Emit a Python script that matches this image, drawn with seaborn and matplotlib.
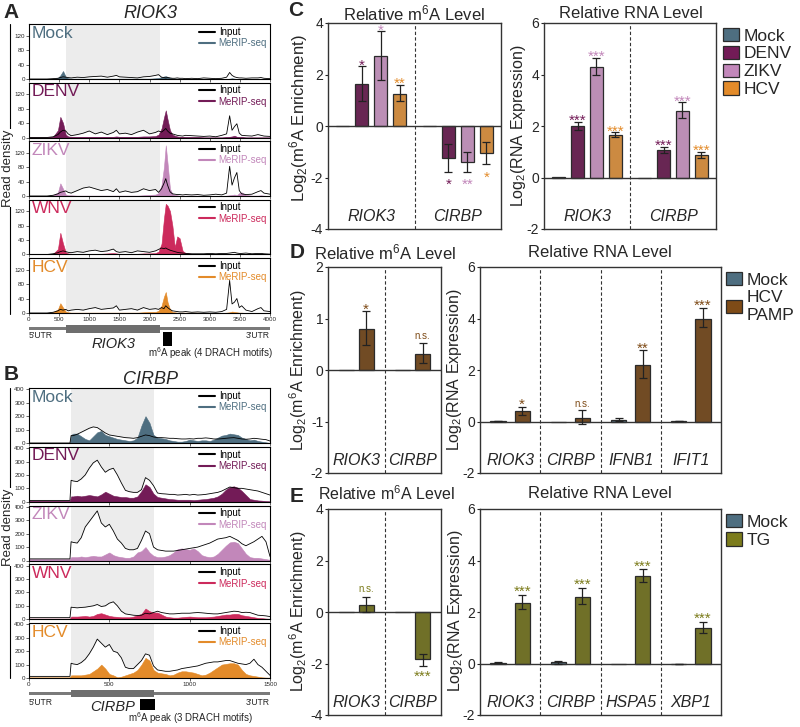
import numpy as np
import pandas as pd
import matplotlib
matplotlib.use('Agg')
import matplotlib.pyplot as plt
import matplotlib.transforms as mtrans
from matplotlib.patches import Patch
from matplotlib.lines import Line2D
import seaborn as sns

# ---------------- data: coverage tracks (read density) ----------------
riok3_len = 4000
riok3_cds = [620, 2180]
riok3_peak = [2224, 2373]
riok3_pos = [0, 100, 200, 300, 400, 480, 520, 565, 610, 650,
             700, 800, 900, 1000, 1100, 1200, 1300, 1400, 1450, 1500,
             1600, 1700, 1800, 1900, 2000, 2100, 2150, 2200, 2240, 2270,
             2300, 2340, 2380, 2420, 2460, 2500, 2550, 2600, 2700, 2800,
             2900, 3000, 3100, 3200, 3280, 3330, 3370, 3410, 3450, 3490,
             3530, 3600, 3700, 3800, 3850, 3900, 4000]

riok3_in_mock = [0, 0, 0, 0, 1, 2, 4, 6, 5, 4,
                 3, 5, 4, 6, 7, 8, 5, 8, 10, 6,
                 5, 4, 3, 6, 7, 10, 12, 5, 4, 3,
                 4, 3, 2, 2, 3, 2, 2, 1, 2, 1,
                 3, 2, 1, 2, 5, 18, 10, 6, 4, 3,
                 3, 2, 3, 3, 4, 2, 1]
riok3_me_mock = [0, 0, 0, 0, 0, 3, 10, 22, 6, 2,
                 1, 1, 1, 1, 1, 1, 1, 1, 1, 1,
                 1, 1, 1, 1, 1, 2, 3, 5, 7, 8,
                 6, 3, 1, 1, 1, 1, 0, 0, 0, 0,
                 0, 0, 0, 0, 0, 1, 2, 1, 0, 0,
                 0, 0, 0, 0, 0, 0, 0]
riok3_in_denv = [0, 0, 0, 0, 2, 8, 15, 20, 18, 10,
                 5, 8, 12, 18, 10, 15, 8, 14, 20, 10,
                 12, 8, 15, 20, 10, 14, 18, 15, 20, 25,
                 18, 12, 10, 8, 6, 5, 4, 6, 5, 4,
                 3, 4, 2, 6, 10, 60, 20, 30, 38, 12,
                 6, 5, 4, 8, 6, 4, 3]
riok3_me_denv = [0, 0, 0, 0, 2, 20, 57, 40, 8, 3,
                 2, 2, 2, 2, 2, 2, 2, 2, 3, 2,
                 2, 2, 2, 3, 3, 4, 8, 25, 55, 75,
                 50, 20, 8, 5, 3, 2, 2, 1, 1, 1,
                 0, 0, 0, 0, 1, 2, 3, 5, 2, 1,
                 1, 0, 0, 0, 0, 0, 0]
riok3_in_zikv = [0, 0, 0, 0, 2, 6, 10, 12, 14, 10,
                 8, 15, 22, 25, 20, 15, 18, 12, 20, 10,
                 14, 10, 12, 20, 15, 18, 10, 20, 35, 48,
                 30, 12, 6, 5, 4, 4, 3, 4, 3, 4,
                 2, 3, 5, 3, 8, 82, 30, 50, 65, 15,
                 6, 4, 5, 12, 15, 8, 5]
riok3_me_zikv = [0, 0, 0, 0, 2, 10, 35, 20, 4, 2,
                 2, 1, 1, 1, 1, 1, 1, 1, 1, 1,
                 1, 1, 1, 2, 3, 4, 8, 30, 80, 140,
                 90, 20, 6, 3, 2, 1, 1, 1, 1, 1,
                 0, 0, 0, 0, 1, 2, 3, 4, 2, 8,
                 10, 3, 1, 1, 2, 1, 0]
riok3_in_wnv = [0, 0, 0, 0, 2, 5, 8, 10, 8, 6,
                5, 8, 6, 10, 12, 8, 10, 15, 8, 6,
                8, 5, 10, 8, 6, 10, 14, 18, 16, 18,
                15, 12, 10, 8, 6, 5, 4, 3, 2, 2,
                2, 3, 2, 3, 3, 4, 5, 6, 4, 3,
                3, 4, 2, 3, 3, 2, 1]
riok3_me_wnv = [0, 0, 0, 0, 2, 15, 60, 30, 6, 3,
                2, 2, 2, 2, 2, 2, 3, 4, 3, 2,
                2, 2, 2, 3, 3, 4, 8, 30, 100, 140,
                135, 120, 80, 20, 50, 45, 10, 4, 2, 1,
                1, 1, 1, 1, 1, 2, 2, 2, 1, 1,
                1, 1, 0, 0, 0, 0, 0]
riok3_in_hcv = [0, 0, 0, 0, 2, 6, 10, 8, 10, 6,
                8, 10, 8, 12, 15, 10, 12, 14, 20, 8,
                10, 12, 8, 15, 10, 12, 10, 15, 12, 20,
                15, 10, 6, 5, 4, 3, 3, 4, 2, 3,
                2, 3, 2, 4, 10, 90, 25, 30, 40, 15,
                20, 8, 4, 12, 15, 6, 4]
riok3_me_hcv = [0, 0, 0, 0, 2, 10, 27, 15, 4, 2,
                1, 1, 1, 1, 1, 1, 1, 1, 1, 1,
                1, 1, 1, 2, 3, 3, 6, 20, 45, 58,
                30, 10, 3, 2, 1, 1, 1, 1, 1, 1,
                0, 0, 0, 0, 1, 2, 4, 3, 2, 1,
                1, 0, 0, 0, 0, 0, 0]

cirbp_len = 1500
cirbp_cds = [262, 778]
cirbp_peak = [690, 785]
cirbp_pos = [0, 255, 262,
             275, 300, 325, 350, 375, 400, 425, 450, 475, 500,
             525, 550, 575, 600, 625, 650, 675, 700, 725, 750,
             775, 800, 825, 850, 875, 900, 925, 950, 975, 1000,
             1025, 1050, 1075, 1100, 1125, 1150, 1175, 1200, 1225, 1250,
             1275, 1300, 1325, 1350, 1375, 1400, 1425, 1450, 1475, 1500]

cirbp_in_mock = [0, 0, 55,
                 55, 65, 80, 95, 110, 120, 115, 95, 75, 60,
                 55, 50, 45, 40, 38, 35, 40, 50, 60, 55,
                 45, 40, 40, 38, 35, 35, 32, 30, 30, 32,
                 30, 35, 35, 38, 35, 30, 30, 32, 35, 38,
                 40, 35, 30, 28, 30, 35, 32, 28, 25, 15]
cirbp_me_mock = [0, 0, 60,
                 70, 70, 50, 30, 20, 50, 80, 90, 60, 50,
                 40, 30, 25, 20, 15, 20, 40, 130, 200, 150,
                 60, 40, 35, 30, 20, 15, 10, 10, 15, 25,
                 20, 15, 20, 20, 15, 25, 40, 55, 60, 70,
                 65, 60, 40, 30, 20, 25, 15, 10, 5, 0]
cirbp_in_denv = [10, 10, 160,
                 155, 150, 170, 200, 250, 290, 310, 260, 220, 240,
                 250, 200, 140, 85, 75, 70, 70, 90, 180, 160,
                 120, 65, 60, 58, 55, 55, 50, 52, 55, 50,
                 55, 50, 52, 55, 60, 65, 70, 80, 95, 110,
                 105, 100, 100, 95, 90, 85, 80, 70, 60, 50]
cirbp_me_denv = [8, 8, 40,
                 40, 45, 40, 45, 50, 45, 40, 55, 75, 60,
                 45, 40, 35, 35, 30, 30, 40, 80, 130, 110,
                 60, 35, 30, 25, 20, 18, 15, 15, 15, 15,
                 12, 15, 18, 20, 25, 30, 40, 60, 90, 110,
                 115, 105, 80, 50, 20, 15, 10, 8, 5, 3]
cirbp_in_zikv = [12, 12, 140,
                 135, 130, 170, 250, 290, 330, 370, 280, 250, 270,
                 220, 160, 130, 90, 80, 80, 90, 150, 220, 200,
                 100, 80, 75, 70, 70, 70, 75, 80, 85, 90,
                 95, 100, 110, 120, 130, 145, 160, 165, 170, 180,
                 165, 150, 125, 110, 125, 140, 160, 180, 140, 30]
cirbp_me_zikv = [10, 10, 25,
                 25, 25, 30, 25, 30, 35, 30, 30, 45, 60,
                 40, 30, 25, 20, 20, 30, 60, 70, 100, 60,
                 35, 25, 25, 30, 40, 60, 85, 90, 85, 80,
                 90, 70, 40, 30, 25, 30, 50, 80, 110, 135,
                 140, 130, 90, 50, 25, 20, 20, 15, 10, 5]
cirbp_in_wnv = [12, 12, 90,
                88, 85, 88, 90, 95, 100, 110, 95, 100, 120,
                130, 100, 60, 40, 35, 30, 28, 30, 45, 40,
                50, 60, 50, 45, 40, 40, 42, 45, 45, 45,
                48, 50, 48, 45, 42, 40, 40, 45, 50, 55,
                60, 58, 50, 52, 50, 40, 30, 28, 25, 20]
cirbp_me_wnv = [5, 5, 20,
                20, 20, 22, 25, 20, 25, 40, 45, 35, 25,
                20, 18, 15, 15, 15, 20, 30, 40, 80, 60,
                50, 50, 35, 20, 15, 12, 12, 15, 18, 20,
                18, 15, 15, 15, 18, 20, 25, 30, 35, 35,
                40, 40, 30, 25, 20, 15, 10, 8, 5, 3]
cirbp_in_hcv = [12, 12, 110,
                105, 100, 115, 140, 180, 230, 290, 260, 230, 250,
                200, 190, 150, 80, 70, 70, 100, 130, 180, 170,
                90, 60, 55, 50, 50, 55, 60, 70, 75, 80,
                85, 90, 100, 110, 115, 120, 120, 125, 130, 130,
                120, 110, 105, 100, 110, 140, 100, 80, 50, 20]
cirbp_me_hcv = [5, 5, 20,
                20, 20, 20, 25, 30, 50, 70, 100, 70, 30,
                20, 5, 10, 20, 30, 40, 60, 100, 150, 130,
                60, 40, 35, 30, 20, 25, 40, 50, 50, 45,
                40, 30, 20, 25, 40, 60, 80, 100, 105, 110,
                110, 100, 60, 30, 20, 15, 10, 5, 3, 2]

track_names = ['Mock', 'DENV', 'ZIKV', 'WNV', 'HCV']

# ---------------- data: bar charts ----------------
c_genes = ['RIOK3', 'CIRBP']
c_conds = ['Mock', 'DENV', 'ZIKV', 'HCV']
c_m6a_mean = {'Mock': [0, 0], 'DENV': [1.62, -1.23], 'ZIKV': [2.70, -1.39], 'HCV': [1.23, -1.04]}
c_m6a_lo = {'DENV': [0.97, -1.79], 'ZIKV': [1.79, -1.79], 'HCV': [0.97, -1.49]}
c_m6a_hi = {'DENV': [2.34, -0.71], 'ZIKV': [3.70, -1.01], 'HCV': [1.60, -0.62]}
c_m6a_sig = {'DENV': ['*', '*'], 'ZIKV': ['*', '**'], 'HCV': ['**', '*']}
c_m6a_sig_y = {'DENV': [2.53, -2.08], 'ZIKV': [3.9, -2.08], 'HCV': [1.82, -1.82]}

c_rna_mean = {'Mock': [0.02, 0.0], 'DENV': [2.00, 1.07], 'ZIKV': [4.30, 2.58], 'HCV': [1.65, 0.86]}
c_rna_lo = {'DENV': [1.85, 0.97], 'ZIKV': [3.97, 2.30], 'HCV': [1.59, 0.75]}
c_rna_hi = {'DENV': [2.17, 1.20], 'ZIKV': [4.66, 2.92], 'HCV': [1.75, 1.00]}
c_rna_sig = {'DENV': ['***', '***'], 'ZIKV': ['***', '***'], 'HCV': ['***', '***']}
c_rna_sig_y = {'DENV': [2.39, 1.42], 'ZIKV': [4.88, 3.14], 'HCV': [1.97, 1.23]}

d_m6a_genes = ['RIOK3', 'CIRBP']
d_conds = ['Mock', 'HCV PAMP']
d_m6a_mean = {'Mock': [0, 0], 'HCV PAMP': [0.79, 0.31]}
d_m6a_lo = {'HCV PAMP': [0.48, 0.13]}
d_m6a_hi = {'HCV PAMP': [1.14, 0.53]}
d_m6a_sig = {'HCV PAMP': ['*', 'n.s.']}
d_m6a_sig_y = {'HCV PAMP': [1.27, 0.65]}

d_rna_genes = ['RIOK3', 'CIRBP', 'IFNB1', 'IFIT1']
d_rna_mean = {'Mock': [0.02, 0.0, 0.07, 0.02], 'HCV PAMP': [0.39, 0.13, 2.20, 3.99]}
d_rna_lo = {'Mock': [0.01, 0.0, 0.02, 0.01], 'HCV PAMP': [0.26, -0.09, 1.70, 3.67]}
d_rna_hi = {'Mock': [0.03, 0.0, 0.14, 0.03], 'HCV PAMP': [0.58, 0.43, 2.76, 4.41]}
d_rna_sig = {'HCV PAMP': ['*', 'n.s.', '**', '***']}
d_rna_sig_y = {'HCV PAMP': [0.85, 0.66, 3.0, 4.7]}

e_m6a_genes = ['RIOK3', 'CIRBP']
e_conds = ['Mock', 'TG']
e_m6a_mean = {'Mock': [0, 0], 'TG': [0.26, -1.82]}
e_m6a_lo = {'TG': [0.0, -2.08]}
e_m6a_hi = {'TG': [0.58, -1.62]}
e_m6a_sig = {'TG': ['n.s.', '***']}
e_m6a_sig_y = {'TG': [0.89, -2.34]}

e_rna_genes = ['RIOK3', 'CIRBP', 'HSPA5', 'XBP1']
e_rna_mean = {'Mock': [0.03, 0.05, 0.0, -0.02], 'TG': [2.34, 2.57, 3.40, 1.36]}
e_rna_lo = {'Mock': [0.01, 0.0, 0.0, -0.03], 'TG': [2.13, 2.30, 3.18, 1.19]}
e_rna_hi = {'Mock': [0.05, 0.10, 0.0, -0.01], 'TG': [2.65, 2.95, 3.68, 1.62]}
e_rna_sig = {'TG': ['***', '***', '***', '***']}
e_rna_sig_y = {'TG': [2.96, 3.25, 3.96, 1.92]}

palette = {'Mock': '#4e6e80', 'DENV': '#731b57', 'ZIKV': '#c287ba', 'WNV': '#cc2a5c',
           'HCV': '#e38b2a', 'HCV PAMP': '#7e4b17', 'TG': '#7c7c1c'}

# ---------------- style ----------------
sns.set_style('ticks')
plt.rcParams['font.family'] = ['Liberation Sans', 'DejaVu Sans']
plt.rcParams['mathtext.fontset'] = 'custom'
plt.rcParams['mathtext.rm'] = 'Liberation Sans'
plt.rcParams['mathtext.it'] = 'Liberation Sans:italic'
plt.rcParams['mathtext.bf'] = 'Liberation Sans:bold'
plt.rcParams['axes.unicode_minus'] = False

W, H = 800, 727
fig = plt.figure(figsize=(8, 7.27), dpi=100)


def px_axes(x0, y0, x1, y1):
    return fig.add_axes([x0 / W, 1 - y1 / H, (x1 - x0) / W, (y1 - y0) / H])


def fig_text(x, y, s, **kw):
    fig.text(x / W, 1 - y / H, s, **kw)


def draw_track(ax, pos, inp, mer, name, length, cds, ymax, yticks, xticks, show_x):
    c = palette[name]
    ax.axvspan(cds[0], cds[1], color='#ececec', lw=0, zorder=0)
    ax.fill_between(pos, inp, color='white', lw=0, zorder=1)
    ax.fill_between(pos, mer, color=c, edgecolor=c, lw=0.4, zorder=2)
    sns.lineplot(x=pos, y=inp, ax=ax, color='black', lw=0.6, zorder=3)
    ax.set_xlim(0, length)
    ax.set_ylim(0, ymax)
    ax.set_yticks(yticks)
    ax.set_xticks(xticks)
    ax.tick_params(labelsize=4.5, length=2, width=0.5, pad=1)
    if not show_x:
        ax.tick_params(axis='x', labelbottom=False)
    ax.set_xlabel('')
    ax.set_ylabel('')
    for s in ax.spines.values():
        s.set_linewidth(0.8)
        s.set_color('black')
    ax.text(0.012, 0.97, name, transform=ax.transAxes, color=c, fontsize=12.5,
            ha='left', va='top', zorder=5)
    handles = [Line2D([], [], color='black', lw=1.5), Line2D([], [], color=c, lw=1.5)]
    ax.legend(handles, ['Input', 'MeRIP-seq'], loc='upper right', frameon=False,
              fontsize=7, handlelength=1.6, handletextpad=0.4, labelspacing=0.15,
              borderaxespad=0.1, borderpad=0.2, labelcolor=['black', c])


def gene_model(rect, length, cds, peak, gene, peak_label, label_frac, ys):
    ax = px_axes(*rect)
    ax.set_xlim(0, length)
    ax.set_ylim(rect[3], rect[1])
    ax.axis('off')
    ax.fill_between([0, length], ys[0], ys[1], color='#7a7a7a', lw=0)
    ax.fill_between(cds, ys[2], ys[3], color='#6e6e6e', lw=0)
    ax.fill_between(peak, ys[4], ys[5], color='black', lw=0)
    ax.text(0, ys[6], "5'UTR", ha='left', va='center', fontsize=6.2)
    ax.text(length, ys[6], "3'UTR", ha='right', va='center', fontsize=6.2)
    ax.text(np.mean(cds), ys[7], gene, ha='center', va='center', fontsize=10.5, style='italic')
    ax.text(label_frac, ys[8], peak_label, transform=mtrans.blended_transform_factory(ax.transAxes, ax.transData),
            ha='center', va='center', fontsize=7)


# ---------------- panel A ----------------
fig_text(11, 12, 'A', fontsize=15, fontweight='bold', ha='center', va='center')
fig_text(150, 13, 'RIOK3', fontsize=13, style='italic', ha='center', va='center')
riok3_tracks = [(riok3_in_mock, riok3_me_mock), (riok3_in_denv, riok3_me_denv),
                (riok3_in_zikv, riok3_me_zikv), (riok3_in_wnv, riok3_me_wnv),
                (riok3_in_hcv, riok3_me_hcv)]
for i, (name, (inp, mer)) in enumerate(zip(track_names, riok3_tracks)):
    top = 24 + i * 58.5
    ax = px_axes(29, top, 270, top + 55)
    draw_track(ax, riok3_pos, inp, mer, name, riok3_len, riok3_cds, 152,
               [0, 40, 80, 120], list(range(0, 4001, 500)), i == 4)
gene_model((29, 320, 270, 362), riok3_len, riok3_cds, riok3_peak, 'RIOK3',
           'm$^6$A peak (4 DRACH motifs)', 0.752,
           [327, 330, 325, 333, 332, 346, 336, 344, 353])

# ---------------- panel B ----------------
fig_text(11, 374, 'B', fontsize=15, fontweight='bold', ha='center', va='center')
fig_text(150, 379, 'CIRBP', fontsize=13, style='italic', ha='center', va='center')
cirbp_tracks = [(cirbp_in_mock, cirbp_me_mock), (cirbp_in_denv, cirbp_me_denv),
                (cirbp_in_zikv, cirbp_me_zikv), (cirbp_in_wnv, cirbp_me_wnv),
                (cirbp_in_hcv, cirbp_me_hcv)]
for i, (name, (inp, mer)) in enumerate(zip(track_names, cirbp_tracks)):
    top = 388 + i * 58.75
    ax = px_axes(29, top, 270, top + 55)
    draw_track(ax, cirbp_pos, inp, mer, name, cirbp_len, cirbp_cds, 410,
               [0, 100, 200, 300, 400], [0, 500, 1000, 1500], i == 4)
gene_model((29, 686, 270, 724), cirbp_len, cirbp_cds, cirbp_peak, 'CIRBP',
           'm$^6$A peak (3 DRACH motifs)', 0.668,
           [692, 695, 690, 697, 699, 710, 702.5, 707, 718.5])

# Read density brackets
for y0, y1, yc in [(24, 314, 168), (388, 678, 527)]:
    fig.add_artist(Line2D([10 / W, 10 / W], [1 - y0 / H, 1 - y1 / H], transform=fig.transFigure,
                          color='black', lw=0.8))
    fig_text(8, yc, 'Read density', rotation=90, fontsize=9.5, ha='center', va='center',
             bbox=dict(facecolor='white', edgecolor='none', pad=0.5))


# ---------------- bar panels ----------------
def bar_panel(rect, genes, conds, mean, lo, hi, sig, sig_y, ylim, yticks, width, gap):
    ax = px_axes(*rect)
    rows = [(g, c, mean[c][i]) for c in conds for i, g in enumerate(genes)]
    df = pd.DataFrame(rows, columns=['gene', 'cond', 'value'])
    sns.barplot(data=df, x='gene', y='value', hue='cond', order=genes, hue_order=conds,
                palette=palette, width=width, gap=gap, errorbar=None, edgecolor='#2b2b2b',
                linewidth=0.9, legend=False, ax=ax, zorder=2)
    for c, cont in zip(conds, ax.containers):
        for i, bar in enumerate(cont):
            xc = bar.get_x() + bar.get_width() / 2
            v = mean[c][i]
            if c in lo and hi[c][i] != lo[c][i]:
                ax.errorbar(xc, v, yerr=[[v - lo[c][i]], [hi[c][i] - v]], fmt='none',
                            ecolor='#222222', elinewidth=0.9, capsize=3, capthick=0.9, zorder=4)
            if c in sig:
                s = sig[c][i]
                fs = 7 if s == 'n.s.' else 11
                off = -0.25 * fs if s == 'n.s.' else -0.58 * fs
                ax.annotate(s, (xc, sig_y[c][i]), xytext=(0, off), textcoords='offset points',
                            ha='center', va='baseline', fontsize=fs, color=palette[c])
    n = len(genes)
    ax.set_xlim(-0.5, n - 0.5)
    ax.set_ylim(*ylim)
    ax.set_yticks(yticks)
    ax.axhline(0, color='#333333', lw=1, zorder=3)
    for k in range(1, n):
        ax.axvline(k - 0.5, color='#333333', lw=0.8, ls=(0, (3, 2)), zorder=1)
    trans = mtrans.blended_transform_factory(ax.transData, ax.transAxes)
    for i, g in enumerate(genes):
        ax.text(i, 0.025, g, transform=trans, ha='center', va='bottom', fontsize=11.5, style='italic')
    ax.tick_params(axis='x', length=0, labelbottom=False)
    ax.tick_params(axis='y', labelsize=10, length=2.5, width=0.8, pad=1)
    ax.set_xlabel('')
    ax.set_ylabel('')
    for s in ax.spines.values():
        s.set_linewidth(1)
        s.set_color('#333333')
    return ax


m6a_label = 'Log$_2$(m$^6$A Enrichment)'
rna_label = 'Log$_2$(RNA Expression)'
title_fs = 12

# C
fig_text(296, 10, 'C', fontsize=15, fontweight='bold', ha='center', va='center')
bar_panel((328, 23, 501, 229), c_genes, c_conds, c_m6a_mean, c_m6a_lo, c_m6a_hi,
          c_m6a_sig, c_m6a_sig_y, (-4, 4), [-4, -2, 0, 2, 4], 0.88, 0.3)
bar_panel((544, 23, 716, 229), c_genes, c_conds, c_rna_mean, c_rna_lo, c_rna_hi,
          c_rna_sig, c_rna_sig_y, (-2, 6), [-2, 0, 2, 4, 6], 0.88, 0.3)
fig_text(414, 13, 'Relative m$^6$A Level', fontsize=title_fs, ha='center', va='center')
fig_text(631, 13, 'Relative RNA Level', fontsize=title_fs, ha='center', va='center')
fig_text(299, 118, m6a_label, fontsize=12, rotation=90, ha='center', va='center')
fig_text(518, 126, rna_label, fontsize=11.5, rotation=90, ha='center', va='center')
fig.legend([Patch(facecolor=palette[c], edgecolor='#2b2b2b', lw=0.9) for c in c_conds], c_conds,
           loc='upper left', bbox_to_anchor=(723 / W, 1 - 28 / H), frameon=False, fontsize=12.5,
           handlelength=0.95, handleheight=0.8, handletextpad=0.25, labelspacing=0.12,
           borderpad=0, borderaxespad=0)

# D
fig_text(297, 252, 'D', fontsize=15, fontweight='bold', ha='center', va='center')
bar_panel((328, 267, 441, 473), d_m6a_genes, d_conds, d_m6a_mean, d_m6a_lo, d_m6a_hi,
          d_m6a_sig, d_m6a_sig_y, (-2, 2), [-2, -1, 0, 1, 2], 0.7, 0.25)
bar_panel((480, 267, 721, 473), d_rna_genes, d_conds, d_rna_mean, d_rna_lo, d_rna_hi,
          d_rna_sig, d_rna_sig_y, (-2, 6), [-2, 0, 2, 4, 6], 0.8, 0.37)
fig_text(385, 252, 'Relative m$^6$A Level', fontsize=title_fs, ha='center', va='center')
fig_text(600, 252, 'Relative RNA Level', fontsize=title_fs, ha='center', va='center')
fig_text(298, 370, m6a_label, fontsize=11.5, rotation=90, ha='center', va='center')
fig_text(455, 370, rna_label, fontsize=11.5, rotation=90, ha='center', va='center')
fig.legend([Patch(facecolor=palette[c], edgecolor='#2b2b2b', lw=0.9) for c in d_conds],
           ['Mock', 'HCV\nPAMP'], loc='upper left', bbox_to_anchor=(726 / W, 1 - 272 / H),
           frameon=False, fontsize=12.5, handlelength=0.95, handleheight=0.8, handletextpad=0.25,
           labelspacing=0.15, borderpad=0, borderaxespad=0)

# E
fig_text(297, 496, 'E', fontsize=15, fontweight='bold', ha='center', va='center')
bar_panel((328, 509, 441, 715), e_m6a_genes, e_conds, e_m6a_mean, e_m6a_lo, e_m6a_hi,
          e_m6a_sig, e_m6a_sig_y, (-4, 4), [-4, -2, 0, 2, 4], 0.7, 0.25)
bar_panel((480, 509, 721, 715), e_rna_genes, e_conds, e_rna_mean, e_rna_lo, e_rna_hi,
          e_rna_sig, e_rna_sig_y, (-2, 6), [-2, 0, 2, 4, 6], 0.8, 0.37)
fig_text(386, 494, 'Relative m$^6$A Level', fontsize=11.5, ha='center', va='center')
fig_text(600, 494, 'Relative RNA Level', fontsize=title_fs, ha='center', va='center')
fig_text(298, 611, m6a_label, fontsize=11.5, rotation=90, ha='center', va='center')
fig_text(456, 611, rna_label, fontsize=11.5, rotation=90, ha='center', va='center')
fig.legend([Patch(facecolor=palette[c], edgecolor='#2b2b2b', lw=0.9) for c in e_conds],
           e_conds, loc='upper left', bbox_to_anchor=(726 / W, 1 - 514 / H),
           frameon=False, fontsize=12.5, handlelength=0.95, handleheight=0.8, handletextpad=0.25,
           labelspacing=0.15, borderpad=0, borderaxespad=0)

fig.savefig('out.png', dpi=100)
